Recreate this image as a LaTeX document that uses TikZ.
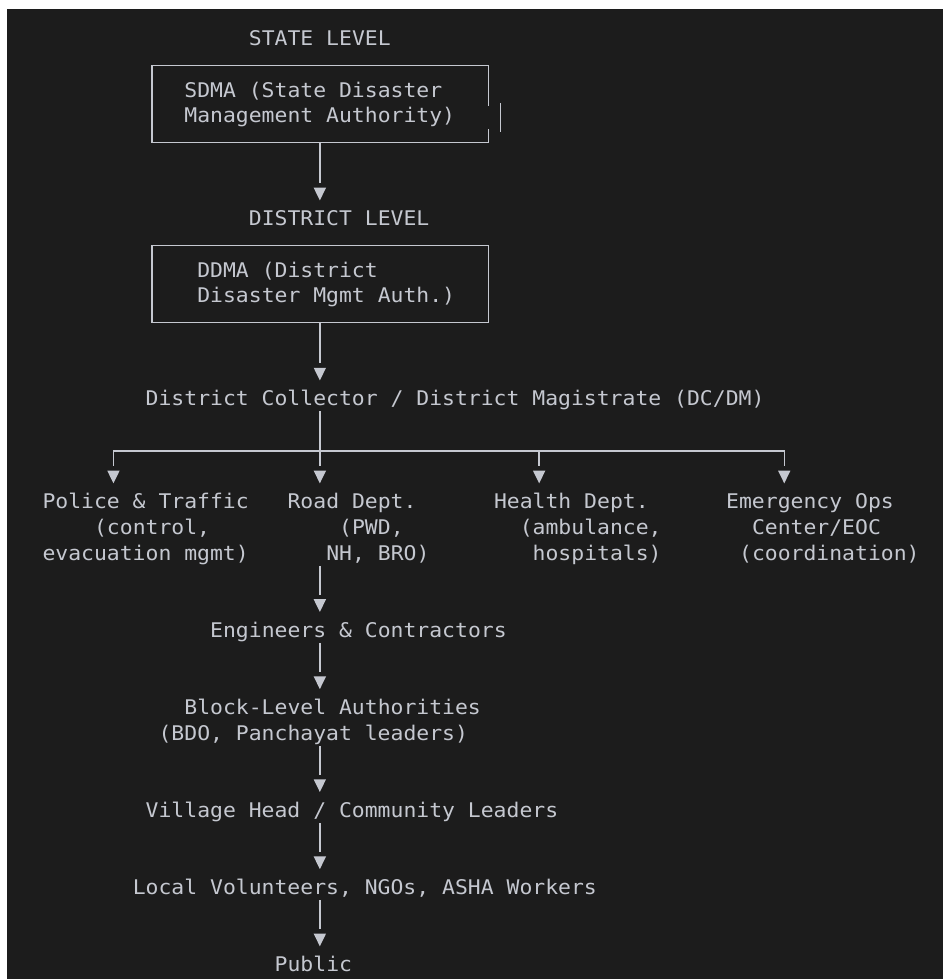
\documentclass[tikz,border=0pt]{standalone}
\usepackage{fontspec}
\newfontfamily\monof[FakeStretch=1.06]{DejaVu Sans Mono}
\usetikzlibrary{calc}
\definecolor{bgc}{HTML}{1C1C1C}
\definecolor{fgc}{HTML}{C5C8D0}
\begin{document}
\begin{tikzpicture}[x=1pt,y=-1pt,
  txt/.style={anchor=base west, inner sep=0pt, outer sep=0pt, text=fgc,
    font=\monof\fontsize{20.2}{25.72}\selectfont},
  conn/.style={draw=fgc, line width=1.4pt},
  boxnode/.style={rectangle, inner sep=0pt, outer sep=0pt,
    minimum width=336.3pt, minimum height=77.16pt},
  tri/.pic={\fill[fgc] (-6.2,-12.3) -- (6.2,-12.3) -- (0,0.4) -- cycle;}]
\useasboundingbox (0,0) rectangle (943,979);
\fill[white] (0,0) rectangle (943,979);
\fill[bgc] (7,9) rectangle (943,979);

% ---- triangle tip coordinates ----
\coordinate (t6)  at (319.85,200.02);
\coordinate (t13) at (319.85,380.06);
\coordinate (t17a) at (113.45,482.94);
\coordinate (t17b) at (319.85,482.94);
\coordinate (t17c) at (539.15,482.94);
\coordinate (t17d) at (784.25,482.94);
\coordinate (t22) at (319.85,611.54);
\coordinate (t25) at (319.85,688.70);
\coordinate (t29) at (319.85,791.58);
\coordinate (t32) at (319.85,868.74);
\coordinate (t35) at (319.85,945.90);
\coordinate (hub) at (319.85,451.02);

% ---- state level ----
\node[txt] (state) at (248.9,45.70) {STATE LEVEL};
\node[boxnode] (sdma) at (320.3,103.8) {};
\node[txt] (sdma1) at (184.4,97.14) {SDMA (State Disaster};
\node[txt] (sdma2) at (184.4,122.86) {Management Authority)};
% box outline with the broken right side
\draw[conn] ($(sdma.north east)+(0,40.58)$) -- (sdma.north east) -- (sdma.north west)
  -- (sdma.south west) -- (sdma.south east) -- ++(0,-13.78);
\coordinate (sbar) at (500.45,102.9);
\draw[conn] (sbar) -- ++(0,28.7);

\draw[conn] (sdma.south -| t6) -- ($(t6)+(0,-17)$);
\pic at (t6) {tri};

% ---- district level ----
\node[txt] (district) at (248.9,225.74) {DISTRICT LEVEL};
\node[boxnode, draw=fgc, line width=1.4pt] (ddma) at (320.3,283.84) {};
\node[txt] (ddma1) at (197.3,277.18) {DDMA (District};
\node[txt] (ddma2) at (197.3,302.90) {Disaster Mgmt Auth.)};
\draw[conn] (ddma.south -| t13) -- ($(t13)+(0,-17)$);
\pic at (t13) {tri};

\node[txt] (dc) at (145.7,405.78) {District Collector / District Magistrate (DC/DM)};
\draw[conn] ($(dc.base -| hub)+(0,5.7)$) -- (hub);
\draw[conn] ($(t17a)+(0,-17)$) |- (hub) -| ($(t17d)+(0,-17)$);
\draw[conn] (hub) -- ($(t17b)+(0,-17)$);
\draw[conn] (hub -| t17c) -- ($(t17c)+(0,-17)$);
\pic at (t17a) {tri};
\pic at (t17b) {tri};
\pic at (t17c) {tri};
\pic at (t17d) {tri};

% ---- departments ----
\node[txt] (pol1) at (42.5,508.66) {Police \& Traffic};
\node[txt] (pol2) at (94.1,534.38) {(control,};
\node[txt] (pol3) at (42.5,560.10) {evacuation mgmt)};

\node[txt] (road1) at (287.6,508.66) {Road Dept.};
\node[txt] (road2) at (339.2,534.38) {(PWD,};
\node[txt] (road3) at (326.3,560.10) {NH, BRO)};

\node[txt] (hea1) at (494.0,508.66) {Health Dept.};
\node[txt] (hea2) at (519.8,534.38) {(ambulance,};
\node[txt] (hea3) at (532.7,560.10) {hospitals)};

\node[txt] (eoc1) at (726.2,508.66) {Emergency Ops};
\node[txt] (eoc2) at (752.0,534.38) {Center/EOC};
\node[txt] (eoc3) at (739.1,560.10) {(coordination)};

% ---- chain below road dept ----
\draw[conn] ($(road3.base -| t22)+(0,5.7)$) -- ($(t22)+(0,-17)$);
\pic at (t22) {tri};
\node[txt] (eng) at (210.2,637.26) {Engineers \& Contractors};
\draw[conn] ($(eng.base -| t25)+(0,5.7)$) -- ($(t25)+(0,-17)$);
\pic at (t25) {tri};
\node[txt] (blk1) at (184.4,714.42) {Block-Level Authorities};
\node[txt] (blk2) at (158.6,740.14) {(BDO, Panchayat leaders)};
\draw[conn] ($(blk2.base -| t29)+(0,5.7)$) -- ($(t29)+(0,-17)$);
\pic at (t29) {tri};
\node[txt] (vil) at (145.7,817.30) {Village Head / Community Leaders};
\draw[conn] ($(vil.base -| t32)+(0,5.7)$) -- ($(t32)+(0,-17)$);
\pic at (t32) {tri};
\node[txt] (loc) at (132.8,894.46) {Local Volunteers, NGOs, ASHA Workers};
\draw[conn] ($(loc.base -| t35)+(0,5.7)$) -- ($(t35)+(0,-17)$);
\pic at (t35) {tri};
\node[txt] (pub) at (274.7,971.62) {Public};
\end{tikzpicture}
\end{document}
